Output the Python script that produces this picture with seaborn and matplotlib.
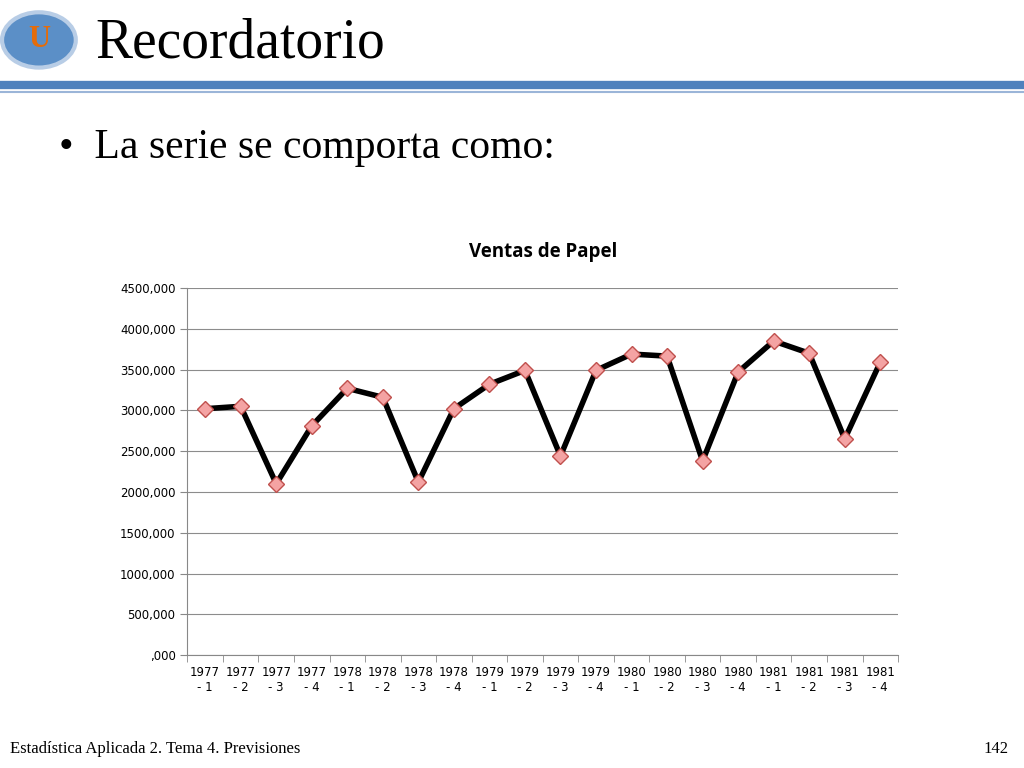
import matplotlib.pyplot as plt
import matplotlib.patches as mpatches
import seaborn as sns
import pandas as pd
import numpy as np

# data
periods = ["1977\n- 1", "1977\n- 2", "1977\n- 3", "1977\n- 4",
           "1978\n- 1", "1978\n- 2", "1978\n- 3", "1978\n- 4",
           "1979\n- 1", "1979\n- 2", "1979\n- 3", "1979\n- 4",
           "1980\n- 1", "1980\n- 2", "1980\n- 3", "1980\n- 4",
           "1981\n- 1", "1981\n- 2", "1981\n- 3", "1981\n- 4"]
ventas = [3020, 3050, 2100, 2810, 3270, 3160, 2120, 3020, 3320, 3490,
          2440, 3490, 3690, 3665, 2380, 3470, 3850, 3700, 2650, 3590]
y_ticks = [0, 500, 1000, 1500, 2000, 2500, 3000, 3500, 4000, 4500]

df = pd.DataFrame({"pos": np.arange(len(periods)), "ventas": ventas})

fig = plt.figure(figsize=(10.24, 7.68), dpi=100)
fig.patch.set_facecolor("white")

# slide header
fig.text(0.093, 0.943, "Recordatorio", fontsize=40, family="Liberation Serif", va="center")
fig.add_artist(plt.Line2D([0.0, 1.0], [0.889, 0.889], color="#4f81bd", lw=6))
fig.add_artist(plt.Line2D([0.0, 1.0], [0.880, 0.880], color="#9bb5d8", lw=1.5))
logo = mpatches.Circle((0.038, 0.948), 0.036, transform=fig.transFigure,
                       facecolor="#5b8fc7", edgecolor="#b8cde6", lw=3)
fig.add_artist(logo)
fig.text(0.038, 0.948, "U", fontsize=22, color="#e46c0a", ha="center", va="center",
         family="Liberation Serif", weight="bold")
fig.text(0.058, 0.807, "•  La serie se comporta como:", fontsize=30,
         family="Liberation Serif", va="center")
fig.text(0.01, 0.025, "Estadística Aplicada 2. Tema 4. Previsiones", fontsize=12,
         family="Liberation Serif", va="center")
fig.text(0.985, 0.025, "142", fontsize=12, family="Liberation Serif", va="center", ha="right")

ax = fig.add_axes([0.183, 0.147, 0.694, 0.478])
sns.lineplot(data=df, x="pos", y="ventas", ax=ax, color="black", lw=4,
             marker="D", markersize=8, markerfacecolor="#f4a3a3",
             markeredgecolor="#c0504d", markeredgewidth=1)

ax.set_xlim(-0.5, len(periods) - 0.5)
ax.set_ylim(0, 4500)
ax.set_yticks(y_ticks)
ax.set_yticklabels([f"{v},000" if v else ",000" for v in y_ticks], fontsize=8.5)
ax.set_xticks(np.arange(len(periods)))
ax.set_xticklabels(periods, fontsize=8.5)
ax.set_xticks(np.arange(len(periods) + 1) - 0.5, minor=True)
ax.tick_params(axis="x", which="major", length=0, pad=8)
ax.tick_params(axis="x", which="minor", length=5, color="#888888")
ax.tick_params(axis="y", length=5, color="#888888")
ax.grid(axis="y", color="#8c8c8c", lw=0.8)
ax.set_axisbelow(True)
for s in ["top", "right"]:
    ax.spines[s].set_visible(False)
ax.spines["left"].set_color("#888888")
ax.spines["bottom"].set_color("#888888")
ax.set_xlabel("")
ax.set_ylabel("")
ax.set_title("Ventas de Papel", fontsize=13.5, weight="bold", pad=22,
             family="Open Sans")

fig.savefig("out.png", dpi=100)
